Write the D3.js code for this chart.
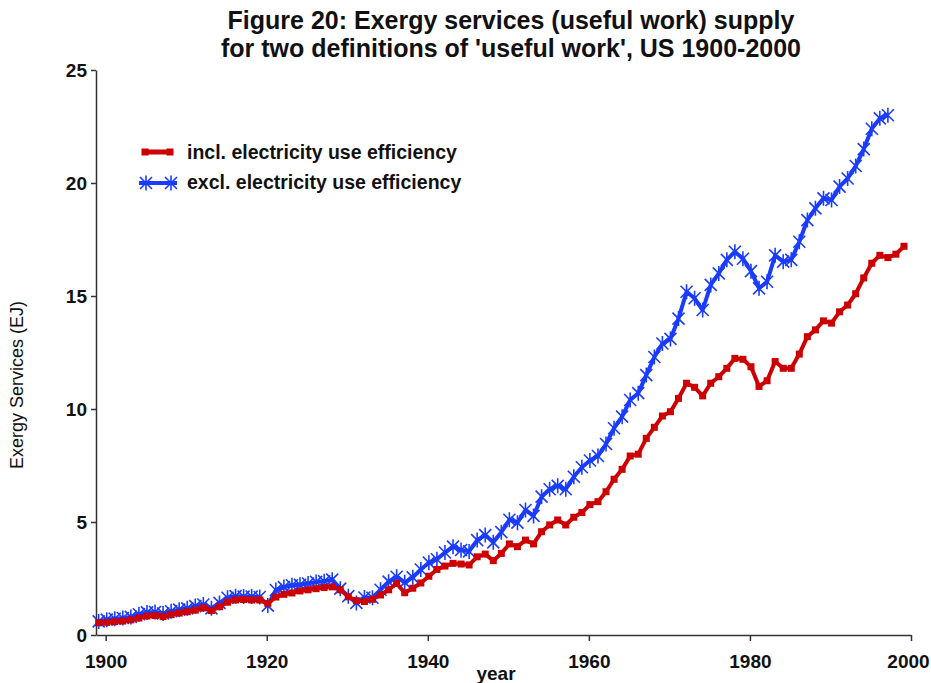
<!DOCTYPE html>
<html>
<head>
<meta charset="utf-8">
<script src="https://cdn.jsdelivr.net/npm/d3@7"></script>
<style>
body { margin: 0; background: #fff; }
svg text { font-family: Arial, "Liberation Sans", sans-serif; fill: #111; }
</style>
</head>
<body>
<div id="chart-container"></div>
<script>
var firstYear = 1900;

// incl. electricity use efficiency, EJ, 1900-2000
var inclValues = [
    0.54, 0.56, 0.59, 0.62, 0.67, 0.75, 0.84, 0.86, 0.82, 0.90,
    0.97, 1.03, 1.10, 1.20, 1.08, 1.25, 1.45, 1.55, 1.57, 1.55,
    1.55, 1.40, 1.68, 1.80, 1.86, 1.95, 2.00, 2.05, 2.10, 2.13,
    2.00, 1.69, 1.52, 1.48, 1.58, 1.77, 2.00, 2.28, 1.87, 2.07,
    2.30, 2.60, 2.90, 3.05, 3.17, 3.14, 3.10, 3.46, 3.58, 3.29,
    3.61, 4.03, 3.91, 4.20, 4.03, 4.57, 4.87, 5.09, 4.87, 5.21,
    5.42, 5.77, 5.90, 6.34, 6.89, 7.33, 7.92, 8.00, 8.70, 9.19,
    9.69, 9.88, 10.47, 11.14, 10.96, 10.58, 11.14, 11.43, 11.80, 12.24,
    12.20, 11.87, 11.00, 11.25, 12.10, 11.80, 11.80, 12.43, 13.20, 13.50,
    13.90, 13.80, 14.30, 14.60, 15.10, 15.80, 16.45, 16.80, 16.70, 16.85,
    17.20
];

// excl. electricity use efficiency, EJ, 1900-1998
var exclValues = [
    0.60, 0.68, 0.72, 0.75, 0.80, 0.92, 1.00, 1.02, 0.95, 1.05,
    1.12, 1.18, 1.28, 1.35, 1.18, 1.42, 1.65, 1.72, 1.70, 1.70,
    1.68, 1.30, 1.99, 2.12, 2.20, 2.22, 2.28, 2.35, 2.38, 2.45,
    2.05, 1.72, 1.42, 1.66, 1.65, 2.00, 2.36, 2.58, 2.33, 2.55,
    2.90, 3.20, 3.35, 3.65, 3.91, 3.76, 3.70, 4.20, 4.42, 4.10,
    4.55, 5.10, 4.97, 5.53, 5.27, 6.12, 6.45, 6.60, 6.45, 7.00,
    7.42, 7.72, 7.92, 8.45, 9.15, 9.66, 10.40, 10.70, 11.50, 12.30,
    12.90, 13.10, 14.00, 15.19, 14.90, 14.38, 15.49, 16.00, 16.60, 16.96,
    16.65, 16.10, 15.34, 15.63, 16.80, 16.52, 16.60, 17.40, 18.36, 18.88,
    19.32, 19.25, 19.84, 20.20, 20.75, 21.50, 22.40, 22.86, 23.00
];

var seriesNames = ["incl. electricity use efficiency", "excl. electricity use efficiency"];
var xTicks = [1900, 1920, 1940, 1960, 1980, 2000];
var yTicks = [0, 5, 10, 15, 20, 25];
var titleLines = ["Figure 20: Exergy services (useful work) supply",
                  "for two definitions of 'useful work', US 1900-2000"];

var red = "#cc0000";
var blue = "#1a3cff";
var star = "M0,-7.5V7.5M-6,-6L6,6M-6,6L6,-6";

function toPoints(values){
    return values.map(function(v, i){ return {year: firstYear + i, value: v}; });
}

function lineChart(){
    var w = 931;
    var h = 683;

    var svg = d3.select("#chart-container").append("svg")
        .attr("width", w).attr("height", h);

    var xScale = d3.scaleLinear().domain([1898.8, 2000]).range([96, 911]);
    var yScale = d3.scaleLinear().domain([0, 25]).range([635, 70]);

    //Title
    svg.selectAll(".title")
        .data(titleLines)
        .enter()
        .append("text")
        .attr("class", "title")
        .attr("x", 511)
        .attr("y", function(d, i){ return 29 + i * 28; })
        .attr("text-anchor", "middle")
        .style("font-size", "25px")
        .style("font-weight", "bold")
        .text(function(d){ return d; });

    //Axes
    var yAxis = d3.axisLeft(yScale).tickValues(yTicks).tickSize(5).tickSizeOuter(0).tickPadding(4);
    var xAxis = d3.axisBottom(xScale).tickValues(xTicks).tickSize(6).tickSizeOuter(0).tickPadding(14)
        .tickFormat(d3.format("d"));

    svg.append("g")
        .attr("class", "y-axis")
        .attr("transform", "translate(96,0)")
        .call(yAxis);

    svg.append("g")
        .attr("class", "x-axis")
        .attr("transform", "translate(0," + yScale(0) + ")")
        .call(xAxis);

    svg.selectAll(".y-axis path, .y-axis line, .x-axis path, .x-axis line")
        .attr("stroke", "#333")
        .attr("stroke-width", 1.5);
    svg.selectAll(".y-axis text, .x-axis text")
        .attr("fill", "#111")
        .style("font-family", "Arial, 'Liberation Sans', sans-serif")
        .style("font-size", "19px")
        .style("font-weight", "bold");

    // last label sits on the right edge, nudge it in
    svg.selectAll(".x-axis text")
        .filter(function(d){ return d === 2000; })
        .attr("dx", -3);

    svg.append("text")
        .attr("transform", "translate(23,385) rotate(-90)")
        .attr("text-anchor", "middle")
        .style("font-size", "18px")
        .text("Exergy Services (EJ)");

    svg.append("text")
        .attr("x", 496)
        .attr("y", 680)
        .attr("text-anchor", "middle")
        .style("font-size", "19px")
        .style("font-weight", "bold")
        .text("year");

    //Series, plotted slightly left of the tick marks as in the original
    var plot = svg.append("g").attr("transform", "translate(-7,0)");

    var line = d3.line()
        .x(function(d){ return xScale(d.year); })
        .y(function(d){ return yScale(d.value); });

    var excl = toPoints(exclValues);
    var incl = toPoints(inclValues);

    plot.append("path")
        .datum(excl)
        .attr("fill", "none")
        .attr("stroke", blue)
        .attr("stroke-width", 4)
        .attr("stroke-linejoin", "round")
        .attr("d", line);

    plot.selectAll(".star")
        .data(excl)
        .enter()
        .append("path")
        .attr("class", "star")
        .attr("transform", function(d){ return "translate(" + xScale(d.year) + "," + yScale(d.value) + ")"; })
        .attr("d", star)
        .attr("stroke", blue)
        .attr("stroke-width", 1.6)
        .attr("fill", "none");

    plot.append("path")
        .datum(incl)
        .attr("fill", "none")
        .attr("stroke", red)
        .attr("stroke-width", 4)
        .attr("stroke-linejoin", "round")
        .attr("d", line);

    plot.selectAll(".sq")
        .data(incl)
        .enter()
        .append("rect")
        .attr("class", "sq")
        .attr("x", function(d){ return xScale(d.year) - 3.5; })
        .attr("y", function(d){ return yScale(d.value) - 3.5; })
        .attr("width", 7)
        .attr("height", 7)
        .attr("fill", red);

    //Legend
    var legend = svg.append("g").attr("class", "legend");

    legend.append("line")
        .attr("x1", 143).attr("x2", 172).attr("y1", 152).attr("y2", 152)
        .attr("stroke", red).attr("stroke-width", 5);
    legend.selectAll(".lsq")
        .data([145, 170])
        .enter()
        .append("rect")
        .attr("x", function(d){ return d - 3.5; })
        .attr("y", 148.5)
        .attr("width", 7).attr("height", 7)
        .attr("fill", red);

    legend.append("line")
        .attr("x1", 139).attr("x2", 177).attr("y1", 183).attr("y2", 183)
        .attr("stroke", blue).attr("stroke-width", 4);
    legend.selectAll(".lstar")
        .data([146, 171])
        .enter()
        .append("path")
        .attr("transform", function(d){ return "translate(" + d + ",183)"; })
        .attr("d", star)
        .attr("stroke", blue).attr("stroke-width", 1.6).attr("fill", "none");

    legend.selectAll(".ltext")
        .data(seriesNames)
        .enter()
        .append("text")
        .attr("x", 187)
        .attr("y", function(d, i){ return 159 + i * 30; })
        .style("font-size", "19.5px")
        .style("font-weight", "bold")
        .text(function(d){ return d; });
}

lineChart();
</script>
</body>
</html>
